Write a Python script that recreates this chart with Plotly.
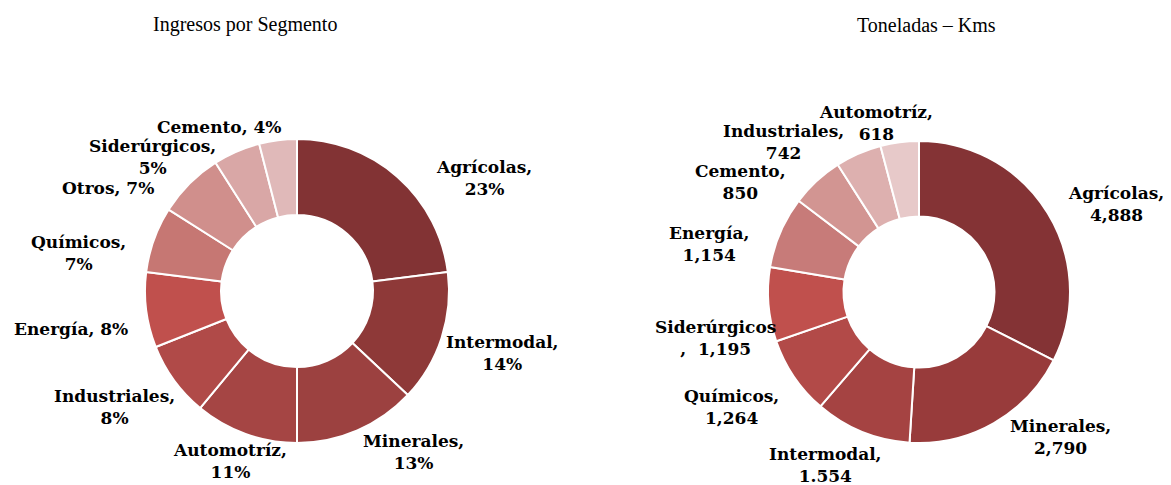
import plotly.graph_objects as go

W, H = 1171, 485
OFF = 8  # page body margin in the browser

# ---- data: Ingresos por Segmento (%)
ing_cats = ["Agrícolas", "Intermodal", "Minerales", "Automotríz", "Industriales",
            "Energía", "Químicos", "Otros", "Siderúrgicos", "Cemento"]
ing_vals = [23, 14, 13, 11, 8, 8, 7, 7, 5, 4]
ing_sep = [",<br>", ",<br>", ",<br>", ",<br>", ",<br>", ", ", ",<br>", ", ", ",<br>", ", "]
ing_colors = ["#823334", "#8E3938", "#9C4140", "#A54544", "#B04A48", "#C0504D",
              "#C67773", "#D08F8C", "#D9A7A6", "#E0B9B9"]

# ---- data: Toneladas – Kms
ton_cats = ["Agrícolas", "Minerales", "Intermodal", "Químicos", "Siderúrgicos",
            "Energía", "Cemento", "Industriales", "Automotríz"]
ton_vals = [4888, 2790, 1554, 1264, 1195, 1154, 850, 742, 618]
ton_text = ["4,888", "2,790", "1.554", "1,264", "1,195", "1,154", "850", "742", "618"]
ton_sep = [",<br>", ",<br>", ",<br>", ",<br>", "<br>,  ", ",<br>", ",<br>", ",<br>", ",<br>"]
ton_colors = ["#843335", "#983B3B", "#A54342", "#B24A48", "#C0504D", "#C77B79",
              "#D29592", "#DDB0AF", "#E7C9C9"]

# ---- label placement (pixel centres in the page, layout only)
ing_label_px = [(484, 178), (502, 353), (413, 452), (230, 461), (114, 407),
                (71, 329), (78, 253), (108, 188), (152, 157), (219, 127)]
ton_label_px = [(1116, 204), (1060, 437), (825, 465), (731, 407), (715, 338),
                (709, 244), (741, 182), (783, 142), (876, 123)]


def fx(x):
    return (x - OFF) / W


def fy(y):
    return 1 - (y - OFF) / H


def px_domain(x0, x1, y0, y1):
    return dict(x=[fx(x0), fx(x1)], y=[fy(y1), fy(y0)])


fig = go.Figure()
fig.add_trace(go.Pie(
    labels=ing_cats, values=ing_vals, hole=0.5, sort=False, direction="clockwise",
    rotation=0, textinfo="none", hoverinfo="label+value",
    marker=dict(colors=ing_colors, line=dict(color="white", width=2)),
    domain=px_domain(145, 449, 139, 443), showlegend=False,
))
fig.add_trace(go.Pie(
    labels=ton_cats, values=ton_vals, hole=0.5, sort=False, direction="clockwise",
    rotation=0, textinfo="none", hoverinfo="label+value",
    marker=dict(colors=ton_colors, line=dict(color="white", width=2)),
    domain=px_domain(767, 1071, 141, 443), showlegend=False,
))

lab_font = dict(family="DejaVu Serif", size=17, color="#000000", weight="bold")
anns = []
for c, v, s, (x, y) in zip(ing_cats, ing_vals, ing_sep, ing_label_px):
    anns.append(dict(text=f"{c}{s}{v}%", x=fx(x), y=fy(y), xref="paper", yref="paper",
                     xanchor="center", yanchor="middle", showarrow=False, font=lab_font,
                     align="center"))
for c, t, s, (x, y) in zip(ton_cats, ton_text, ton_sep, ton_label_px):
    anns.append(dict(text=f"{c}{s}{t}", x=fx(x), y=fy(y), xref="paper", yref="paper",
                     xanchor="center", yanchor="middle", showarrow=False, font=lab_font,
                     align="center"))

title_font = dict(family="Liberation Serif", size=20, color="#000000")
anns.append(dict(text="Ingresos por Segmento", x=fx(245), y=fy(25), xref="paper",
                 yref="paper", xanchor="center", yanchor="middle", showarrow=False,
                 font=title_font))
anns.append(dict(text="Toneladas – Kms", x=fx(926), y=fy(25), xref="paper",
                 yref="paper", xanchor="center", yanchor="middle", showarrow=False,
                 font=title_font))

fig.update_layout(
    width=W, height=H, margin=dict(l=0, r=0, t=0, b=0),
    paper_bgcolor="white", plot_bgcolor="white", annotations=anns,
)

fig.write_html("out.html")
